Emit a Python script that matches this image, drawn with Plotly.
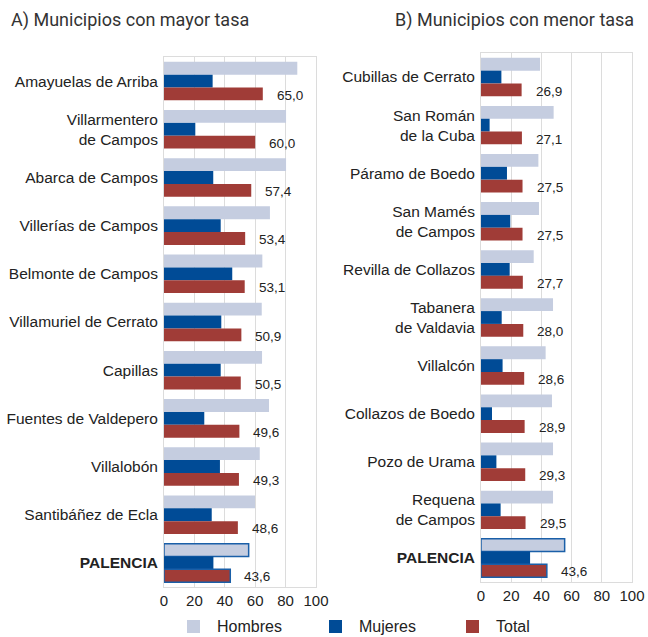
import plotly.graph_objects as go

# A) municipios con mayor tasa
mayor_names = [
    "Amayuelas de Arriba", "Villarmentero<br>de Campos", "Abarca de Campos",
    "Villerías de Campos", "Belmonte de Campos", "Villamuriel de Cerrato",
    "Capillas", "Fuentes de Valdepero", "Villalobón", "Santibáñez de Ecla",
    "<b>PALENCIA</b>",
]
mayor_hombres = [87.7, 80.3, 80.3, 69.7, 64.7, 64.3, 64.5, 69.1, 63.0, 59.9, 55.7]
mayor_mujeres = [32.0, 20.6, 32.4, 37.3, 44.9, 37.7, 37.3, 26.5, 36.8, 31.4, 32.5]
mayor_total = [65.0, 60.0, 57.4, 53.4, 53.1, 50.9, 50.5, 49.6, 49.3, 48.6, 43.6]

# B) municipios con menor tasa
menor_names = [
    "Cubillas de Cerrato", "San Román<br>de la Cuba", "Páramo de Boedo",
    "San Mamés<br>de Campos", "Revilla de Collazos", "Tabanera<br>de Valdavia",
    "Villalcón", "Collazos de Boedo", "Pozo de Urama", "Requena<br>de Campos",
    "<b>PALENCIA</b>",
]
menor_hombres = [39.1, 48.1, 38.0, 38.4, 34.9, 47.7, 42.8, 47.0, 47.7, 47.7, 55.4]
menor_mujeres = [13.5, 5.7, 17.2, 19.4, 19.0, 13.7, 14.3, 7.3, 10.2, 13.0, 32.5]
menor_total = [26.9, 27.1, 27.5, 27.5, 27.7, 28.0, 28.6, 28.9, 29.3, 29.5, 43.6]

series = ["Hombres", "Mujeres", "Total"]
ticks = [0, 20, 40, 60, 80, 100]

C_HOMBRES = "#c5cde0"
C_MUJERES = "#004b96"
C_TOTAL = "#a03c37"
C_EDGE = "#1a5fa8"
COLOURS = [C_HOMBRES, C_MUJERES, C_TOTAL]
FONT = "Arial"

W, H = 648, 637


def px(x):
    return x / W


def py(y):
    return 1 - y / H


def edges(names):
    """Blue outline only on the PALENCIA bars."""
    cols = [C_EDGE if "PALENCIA" in n else "rgba(0,0,0,0)" for n in names]
    widths = [1.5 if "PALENCIA" in n else 0 for n in names]
    return dict(color=cols, width=widths)


fig = go.Figure()

panels = [
    ("x", "y", mayor_names, [mayor_hombres, mayor_mujeres, mayor_total]),
    ("x2", "y2", menor_names, [menor_hombres, menor_mujeres, menor_total]),
]
for xa, ya, names, vals in panels:
    for name, colour, v in zip(series, COLOURS, vals):
        line = dict(width=0) if name == "Mujeres" else edges(names)
        fig.add_trace(go.Bar(
            y=names, x=v, orientation="h", name=name,
            marker=dict(color=colour, line=line),
            xaxis=xa, yaxis=ya, showlegend=False,
        ))
    for n, v in zip(names, vals[2]):
        fig.add_annotation(
            x=v, y=n, xref=xa, yref=ya, text=f"{v:.1f}".replace(".", ","),
            showarrow=False, xanchor="left", xshift=12, yshift=-14,
            font=dict(size=13.5, color="#222222", family=FONT),
        )

# legend drawn by hand so it does not push the bottom margin
for name, colour, x0 in zip(series, COLOURS, [187, 329, 466]):
    fig.add_shape(
        type="rect", xref="paper", yref="paper",
        x0=px(x0), x1=px(x0 + 13), y0=py(633), y1=py(620),
        fillcolor=colour, line_width=0,
    )
    fig.add_annotation(
        x=px(x0 + 28), y=py(626.5), xref="paper", yref="paper", text=name,
        showarrow=False, xanchor="left", yanchor="middle",
        font=dict(size=16, color="#222222", family=FONT),
    )

axis_x = dict(
    range=[0, 100], tickvals=ticks, showgrid=True, gridcolor="#dcdcdc",
    gridwidth=1, showline=True, linecolor="#dcdcdc", mirror=True,
    zeroline=False, ticks="", tickfont=dict(size=15, color="#222222"),
    automargin=False, fixedrange=True,
)
axis_y = dict(
    autorange="reversed", showline=True, linecolor="#dcdcdc", mirror=True,
    ticks="", ticklabelstandoff=2, tickfont=dict(size=15.5, color="#222222"),
    showgrid=False, automargin=False,
)

fig.update_layout(
    width=W, height=H,
    margin=dict(l=0, r=0, t=0, b=0),
    paper_bgcolor="white", plot_bgcolor="white",
    font=dict(family=FONT, color="#222222"),
    barmode="group", bargap=0.2, bargroupgap=0,
    showlegend=False,
    xaxis=dict(axis_x, domain=[px(164), px(316)], anchor="y"),
    yaxis=dict(axis_y, domain=[py(587), py(57)], anchor="x"),
    xaxis2=dict(axis_x, domain=[px(481), px(632)], anchor="y2"),
    yaxis2=dict(axis_y, domain=[py(582), py(53)], anchor="x2"),
)

for txt, xpos in [("A) Municipios con mayor tasa", px(9)),
                  ("B) Municipios con menor tasa", px(393))]:
    fig.add_annotation(
        x=xpos, y=py(20), xref="paper", yref="paper", text=txt,
        showarrow=False, xanchor="left", yanchor="middle",
        font=dict(size=18, color="#333333", family="Roboto"),
    )

# the page's default 8px body margin would push the figure off the window
fig.write_html(
    "out.html",
    config={"displayModeBar": False},
    post_script="document.body.style.margin = '0px';",
)
